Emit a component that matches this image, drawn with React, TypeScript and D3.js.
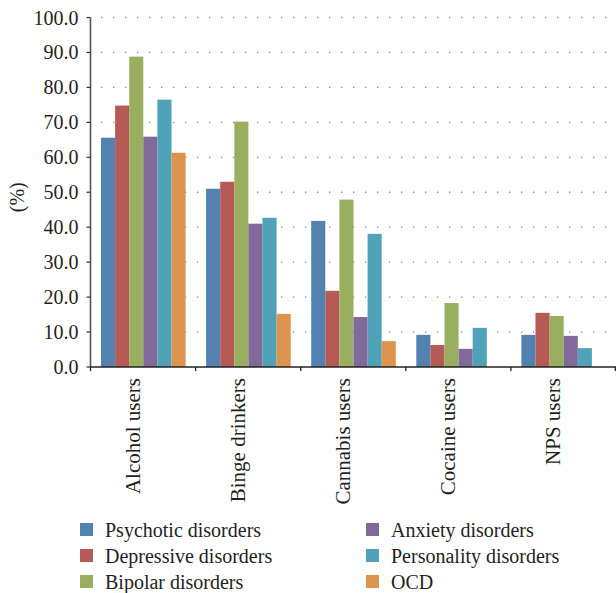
import React from "react";
import * as d3 from "d3";

const categories = ["Alcohol users", "Binge drinkers", "Cannabis users", "Cocaine users", "NPS users"];
const seriesNames = [
  "Psychotic disorders",
  "Depressive disorders",
  "Bipolar disorders",
  "Anxiety disorders",
  "Personality disorders",
  "OCD",
];
const seriesColors = ["#5382b0", "#b55a54", "#9aae60", "#816a9a", "#4fa2b8", "#dc944e"];
const psychotic = [65.6, 51.0, 41.8, 9.2, 9.2];
const depressive = [74.8, 53.0, 21.8, 6.3, 15.5];
const bipolar = [88.8, 70.2, 47.9, 18.3, 14.6];
const anxiety = [65.9, 41.0, 14.3, 5.2, 8.9];
const personality = [76.5, 42.7, 38.1, 11.2, 5.4];
const ocd: (number | null)[] = [61.3, 15.2, 7.4, null, null];
const seriesValues: (number | null)[][] = [psychotic, depressive, bipolar, anxiety, personality, ocd];
const yTicks = [0, 10, 20, 30, 40, 50, 60, 70, 80, 90, 100];

const W = 616;
const H = 593;
const left = 90.5;
const right = 616;
const top = 17.5;
const bottom = 367;
const FONT = "Liberation Serif";

export default function App() {
  const x = d3.scaleBand<string>().domain(categories).range([left, right]).paddingInner(0).paddingOuter(0);
  const inner = d3
    .scaleBand<number>()
    .domain(d3.range(seriesNames.length))
    .range([10.5, x.bandwidth() - 10]);
  const y = d3.scaleLinear().domain([0, 100]).range([bottom, top]);
  const txt = { fontFamily: FONT, fill: "#231f20" } as const;

  return (
    <svg width={W} height={H} style={{ position: "absolute", left: 0, top: 0, background: "#fff" }}>
      {/* gridlines */}
      {yTicks.filter((t) => t > 0).map((t) => (
        <line
          key={"g" + t}
          x1={left + 10.5}
          x2={right}
          y1={y(t)}
          y2={y(t)}
          stroke="#888"
          strokeWidth={1.3}
          strokeDasharray="1.3 10.7"
        />
      ))}
      {/* bars */}
      {categories.map((c, ci) => (
        <g key={c} transform={`translate(${x(c)},0)`}>
          {seriesValues.map((vals, si) => {
            const v = vals[ci];
            if (v == null) return null;
            return (
              <rect
                key={si}
                x={inner(si)}
                y={y(v)}
                width={inner.bandwidth()}
                height={bottom - y(v)}
                fill={seriesColors[si]}
              />
            );
          })}
        </g>
      ))}
      {/* y axis */}
      <line x1={left} x2={left} y1={top} y2={bottom} stroke="#555" strokeWidth={1.6} />
      {yTicks.map((t) => (
        <g key={"t" + t}>
          <line x1={left - 4} x2={left} y1={y(t)} y2={y(t)} stroke="#333" strokeWidth={1.2} />
          <text x={left - 12} y={y(t)} dy="0.35em" textAnchor="end" fontSize={20} style={txt}>
            {t.toFixed(1)}
          </text>
        </g>
      ))}
      <text
        transform={`translate(24,${(top + bottom) / 2 + 5}) rotate(-90)`}
        textAnchor="middle"
        fontSize={20}
        style={txt}
      >
        (%)
      </text>
      {/* x axis */}
      <line x1={left} x2={right} y1={bottom} y2={bottom} stroke="#222" strokeWidth={1.5} />
      {categories.map((c) => (
        <line key={"xt" + c} x1={x(c)!} x2={x(c)!} y1={bottom} y2={bottom + 4} stroke="#222" strokeWidth={1.3} />
      ))}
      <line x1={right - 0.7} x2={right - 0.7} y1={bottom} y2={bottom + 4} stroke="#222" strokeWidth={1.3} />
      {categories.map((c) => (
        <text
          key={"xl" + c}
          transform={`translate(${x(c)! + 49.5},${bottom + 11}) rotate(-90)`}
          textAnchor="end"
          fontSize={21}
          style={txt}
        >
          {c}
        </text>
      ))}
      {/* legend */}
      {seriesNames.map((n, i) => {
        const col = Math.floor(i / 3);
        const row = i % 3;
        const lx = col === 0 ? 80 : 366;
        const ly = 530 + row * 26;
        return (
          <g key={n}>
            <rect x={lx} y={ly - 7} width={13} height={13} fill={seriesColors[i]} />
            <text x={lx + 25} y={ly} dy="0.35em" fontSize={20} style={txt}>
              {n}
            </text>
          </g>
        );
      })}
    </svg>
  );
}
